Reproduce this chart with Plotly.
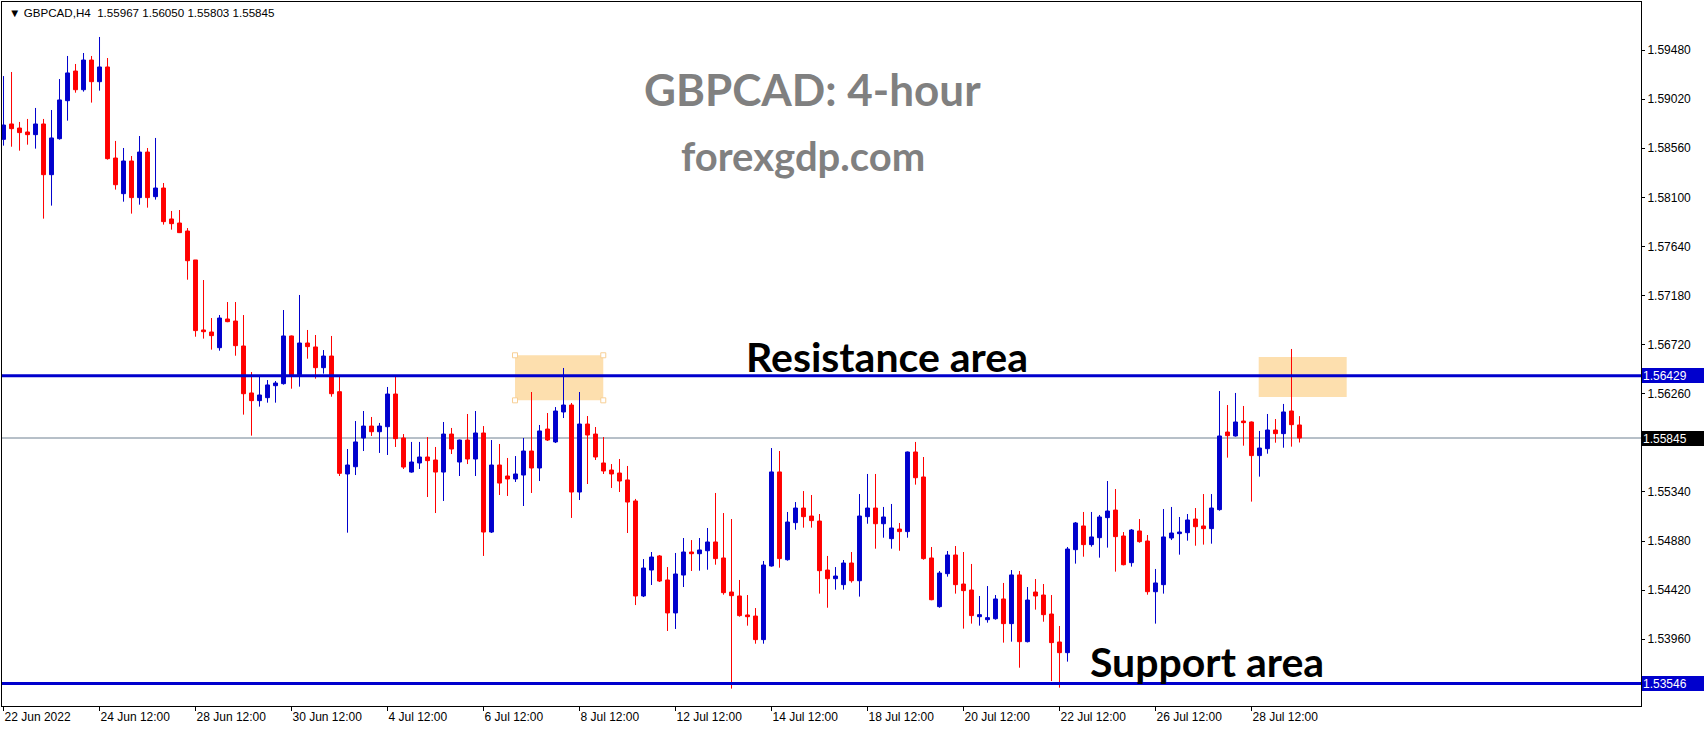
import plotly.graph_objects as go

symbol = "GBPCAD"
timeframe = "H4"

opens = [1.58643, 1.58787, 1.58749, 1.58712, 1.58687, 1.58787, 1.58312, 1.58649, 1.59005, 1.59283,
         1.59108, 1.59386, 1.59183, 1.59321, 1.58468, 1.58134, 1.58440, 1.58097, 1.58524, 1.58106,
         1.58187, 1.57897, 1.57859, 1.57784, 1.57513, 1.56857, 1.56838, 1.56691, 1.56960, 1.56941,
         1.56707, 1.56267, 1.56195, 1.56223, 1.56335, 1.56354, 1.56801, 1.56438, 1.56735, 1.56698,
         1.56504, 1.56613, 1.56279, 1.55508, 1.55576, 1.55845, 1.55957, 1.55904, 1.55951, 1.56257,
         1.55845, 1.55526, 1.55611, 1.55667, 1.55639, 1.55526, 1.55882, 1.55620, 1.55826, 1.55648,
         1.55892, 1.54964, 1.55592, 1.55489, 1.55461, 1.55498, 1.55723, 1.55564, 1.55929, 1.55808,
         1.56089, 1.56154, 1.55339, 1.55976, 1.55882, 1.55611, 1.55545, 1.55517, 1.55452, 1.55255,
         1.54365, 1.54608, 1.54740, 1.54515, 1.54206, 1.54561, 1.54777, 1.54761, 1.54789, 1.54871,
         1.54721, 1.54402, 1.54365, 1.54187, 1.54177, 1.53956, 1.54646, 1.55527, 1.54705, 1.55052,
         1.55189, 1.55114, 1.55067, 1.54608, 1.54527, 1.54471, 1.54674, 1.54508, 1.55108, 1.55189,
         1.55042, 1.54902, 1.54992, 1.54968, 1.55714, 1.55480, 1.54721, 1.54265, 1.54574, 1.54749,
         1.54477, 1.54421, 1.54171, 1.54143, 1.54152, 1.54337, 1.54106, 1.54562, 1.53937, 1.54402,
         1.54374, 1.54196, 1.53934, 1.53834, 1.54799, 1.55021, 1.54846, 1.54911, 1.55099, 1.55170,
         1.54927, 1.54677, 1.54974, 1.54880, 1.54405, 1.54471, 1.54908, 1.54949, 1.54958, 1.55086,
         1.55021, 1.54996, 1.55174, 1.55901, 1.55864, 1.56004, 1.55995, 1.55680, 1.55745, 1.55920,
         1.55886, 1.56098, 1.55967]

highs = [1.59236, 1.59274, 1.58806, 1.58834, 1.58937, 1.58834, 1.58918, 1.59208, 1.59424, 1.59349,
         1.59452, 1.59424, 1.59602, 1.59405, 1.58628, 1.58562, 1.58487, 1.58674, 1.58562, 1.58656,
         1.58234, 1.57972, 1.57981, 1.57812, 1.57513, 1.57325, 1.56969, 1.56997, 1.57119, 1.57119,
         1.56997, 1.56463, 1.56417, 1.56388, 1.56379, 1.57044, 1.56805, 1.57185, 1.56857, 1.56810,
         1.56669, 1.56801, 1.56420, 1.55742, 1.56004, 1.56098, 1.56042, 1.55986, 1.56323, 1.56426,
         1.55882, 1.55808, 1.55808, 1.55854, 1.55761, 1.55995, 1.55939, 1.55830, 1.56070, 1.56098,
         1.55957, 1.55826, 1.55789, 1.55658, 1.55676, 1.55845, 1.56276, 1.55967, 1.56079, 1.56135,
         1.56501, 1.56173, 1.56276, 1.56051, 1.55948, 1.55854, 1.55601, 1.55648, 1.55583, 1.55274,
         1.54711, 1.54777, 1.54749, 1.54636, 1.54768, 1.54908, 1.54889, 1.54908, 1.55002, 1.55330,
         1.55142, 1.55086, 1.54515, 1.54374, 1.54252, 1.54693, 1.55751, 1.55723, 1.55152, 1.55245,
         1.55348, 1.55311, 1.55133, 1.54740, 1.54636, 1.54702, 1.54777, 1.55320, 1.55508, 1.55508,
         1.55199, 1.55227, 1.55049, 1.55718, 1.55808, 1.55667, 1.54824, 1.54599, 1.54786, 1.54833,
         1.54777, 1.54665, 1.54365, 1.54458, 1.54374, 1.54487, 1.54608, 1.54599, 1.54449, 1.54524,
         1.54477, 1.54374, 1.54084, 1.54824, 1.55058, 1.55152, 1.55152, 1.55124, 1.55442, 1.55367,
         1.54964, 1.54992, 1.55086, 1.54936, 1.54618, 1.55180, 1.55199, 1.55105, 1.55133, 1.55189,
         1.55320, 1.55320, 1.56285, 1.56154, 1.56267, 1.56145, 1.56000, 1.55911, 1.56070, 1.56023,
         1.56164, 1.56679, 1.56050]

lows = [1.58584, 1.58574, 1.58537, 1.58593, 1.58556, 1.57900, 1.58022, 1.58640, 1.58818, 1.59080,
        1.59090, 1.58987, 1.59099, 1.58453, 1.58172, 1.58059, 1.57947, 1.58031, 1.58003, 1.58078,
        1.57844, 1.57797, 1.57765, 1.57328, 1.56794, 1.56776, 1.56673, 1.56663, 1.56930, 1.56616,
        1.56064, 1.55867, 1.56139, 1.56176, 1.56176, 1.56345, 1.56307, 1.56326, 1.56588, 1.56401,
        1.56448, 1.56232, 1.55489, 1.54958, 1.55498, 1.55723, 1.55864, 1.55705, 1.55686, 1.55761,
        1.55555, 1.55520, 1.55555, 1.55292, 1.55142, 1.55255, 1.55695, 1.55489, 1.55601, 1.55489,
        1.54740, 1.54955, 1.55311, 1.55302, 1.55433, 1.55208, 1.55330, 1.55442, 1.55817, 1.55798,
        1.56032, 1.55096, 1.55264, 1.55414, 1.55639, 1.55508, 1.55377, 1.55339, 1.54955, 1.54280,
        1.54355, 1.54468, 1.54496, 1.54037, 1.54056, 1.54449, 1.54599, 1.54602, 1.54611, 1.54658,
        1.54377, 1.53497, 1.54171, 1.54087, 1.53918, 1.53918, 1.54640, 1.54630, 1.54696, 1.54986,
        1.55005, 1.55005, 1.54387, 1.54255, 1.54424, 1.54424, 1.54490, 1.54359, 1.55042, 1.54808,
        1.54911, 1.54808, 1.54789, 1.54911, 1.55408, 1.54705, 1.54325, 1.54255, 1.54546, 1.54387,
        1.54059, 1.54106, 1.54087, 1.54115, 1.54143, 1.53928, 1.53937, 1.53693, 1.53930, 1.54237,
        1.54124, 1.53568, 1.53506, 1.53750, 1.54668, 1.54733, 1.54827, 1.54724, 1.54818, 1.54593,
        1.54652, 1.54640, 1.54864, 1.54377, 1.54106, 1.54387, 1.54889, 1.54752, 1.54883, 1.54836,
        1.54846, 1.54855, 1.55164, 1.55661, 1.55858, 1.55773, 1.55249, 1.55483, 1.55698, 1.55801,
        1.55754, 1.55764, 1.55803]

closes = [1.58777, 1.58743, 1.58706, 1.58687, 1.58787, 1.58312, 1.58656, 1.59012, 1.59265, 1.59108,
          1.59386, 1.59183, 1.59321, 1.58462, 1.58218, 1.58440, 1.58097, 1.58524, 1.58097, 1.58187,
          1.57872, 1.57853, 1.57769, 1.57506, 1.56851, 1.56841, 1.56804, 1.56969, 1.56935, 1.56710,
          1.56260, 1.56195, 1.56248, 1.56342, 1.56360, 1.56801, 1.56438, 1.56735, 1.56701, 1.56504,
          1.56613, 1.56260, 1.55514, 1.55592, 1.55808, 1.55957, 1.55904, 1.55957, 1.56257, 1.55839,
          1.55573, 1.55620, 1.55667, 1.55633, 1.55526, 1.55882, 1.55742, 1.55826, 1.55648, 1.55892,
          1.54964, 1.55592, 1.55423, 1.55461, 1.55508, 1.55723, 1.55564, 1.55911, 1.55826, 1.56098,
          1.56154, 1.55339, 1.55976, 1.55873, 1.55667, 1.55536, 1.55508, 1.55442, 1.55245, 1.54365,
          1.54627, 1.54730, 1.54505, 1.54206, 1.54571, 1.54777, 1.54761, 1.54796, 1.54871, 1.54715,
          1.54396, 1.54368, 1.54181, 1.54171, 1.53956, 1.54655, 1.55527, 1.54715, 1.55058, 1.55189,
          1.55108, 1.55071, 1.54602, 1.54527, 1.54552, 1.54674, 1.54508, 1.55114, 1.55189, 1.55042,
          1.55105, 1.55002, 1.54968, 1.55714, 1.55473, 1.54715, 1.54330, 1.54580, 1.54749, 1.54471,
          1.54415, 1.54181, 1.54190, 1.54162, 1.54337, 1.54106, 1.54562, 1.53937, 1.54327, 1.54365,
          1.54190, 1.53928, 1.53834, 1.54805, 1.55049, 1.54846, 1.54918, 1.55105, 1.55161, 1.54921,
          1.54658, 1.54983, 1.54874, 1.54405, 1.54487, 1.54918, 1.54955, 1.54964, 1.55077, 1.55014,
          1.54996, 1.55189, 1.55864, 1.55867, 1.55995, 1.55989, 1.55680, 1.55751, 1.55920, 1.55886,
          1.56089, 1.55970, 1.55845]

# x-axis: bar index of each labelled bar and its label
x_tick_bars = [0, 12, 24, 36, 48, 60, 72, 84, 96, 108, 120, 132, 144, 156]
x_tick_labels = ["22 Jun 2022", "24 Jun 12:00", "28 Jun 12:00", "30 Jun 12:00", "4 Jul 12:00",
                 "6 Jul 12:00", "8 Jul 12:00", "12 Jul 12:00", "14 Jul 12:00", "18 Jul 12:00",
                 "20 Jul 12:00", "22 Jul 12:00", "26 Jul 12:00", "28 Jul 12:00"]

y_tick_values = [1.53500, 1.53960, 1.54420, 1.54880, 1.55340, 1.55800, 1.56260,
                 1.56720, 1.57180, 1.57640, 1.58100, 1.58560, 1.59020, 1.59480]
# grid prices whose labels are covered by a price tag in the original
y_tick_hidden = [1.53500, 1.55800]

resistance_level = 1.56429
support_level = 1.53546

# highlighted zones: (first bar, last bar, lower price, upper price)
zone_first = (63.94, 74.97, 1.56198, 1.56620)
zone_second = (156.9, 167.9, 1.56229, 1.56604)

title_text = "GBPCAD: 4-hour"
site_text = "forexgdp.com"
resistance_text = "Resistance area"
support_text = "Support area"

BLUE = "#0000CD"
RED = "#FF0000"
ZONE = "#FDDFAE"
AXFONT = "Liberation Sans, Arial, sans-serif"
BIGFONT = "Lato, sans-serif"

bars = list(range(len(closes)))
last_close = closes[-1]

fig = go.Figure()

fig.add_trace(go.Candlestick(
    x=bars, open=opens, high=highs, low=lows, close=closes,
    increasing=dict(line=dict(color=BLUE, width=1), fillcolor=BLUE),
    decreasing=dict(line=dict(color=RED, width=1), fillcolor=RED),
    whiskerwidth=0, hoverinfo="skip", showlegend=False,
))

# zone rectangles (below the candles)
for z in (zone_first, zone_second):
    fig.add_shape(type="rect", xref="x", yref="y", x0=z[0], x1=z[1], y0=z[2], y1=z[3],
                  fillcolor=ZONE, line=dict(width=0), layer="below")

# selection handles on the first zone
fig.add_trace(go.Scatter(
    x=[zone_first[0], zone_first[1], zone_first[0], zone_first[1]],
    y=[zone_first[2], zone_first[2], zone_first[3], zone_first[3]],
    mode="markers", marker=dict(symbol="square", size=5, color="white",
                                line=dict(color="#F7CF95", width=1)),
    hoverinfo="skip", showlegend=False,
))

# horizontal levels
for lvl in (resistance_level, support_level):
    fig.add_shape(type="line", xref="paper", yref="y", x0=0, x1=1, y0=lvl, y1=lvl,
                  line=dict(color=BLUE, width=3))
fig.add_shape(type="line", xref="paper", yref="y", x0=0, x1=1, y0=last_close, y1=last_close,
              line=dict(color="#6F8091", width=1), layer="below")

# price tags on the right axis
for lvl, bg in ((resistance_level, BLUE), (last_close, "black"), (support_level, BLUE)):
    fig.add_annotation(x=1, xref="paper", y=lvl, yref="y", xanchor="left", yanchor="middle",
                       xshift=1, text=f"{lvl:.5f}", showarrow=False, bgcolor=bg,
                       bordercolor=bg, borderpad=0, width=60, height=13, align="left",
                       font=dict(family=AXFONT, size=12, color="white"))

# header line
header = (f"\u25BC {symbol},{timeframe}\u00a0\u00a0{opens[-1]:.5f} {highs[-1]:.5f} "
          f"{lows[-1]:.5f} {closes[-1]:.5f}")
fig.add_annotation(x=0.003, xref="paper", y=0.9848, yref="paper", xanchor="left",
                   yanchor="middle", text=header, showarrow=False,
                   font=dict(family=AXFONT, size=11.6, color="black"))

# titles and labels
fig.add_annotation(x=0.4945, xref="paper", y=0.877, yref="paper", text=f"<b>{title_text}</b>",
                   showarrow=False, xanchor="center", yanchor="middle",
                   font=dict(family=BIGFONT, size=44, color="#808080"))
fig.add_annotation(x=0.4889, xref="paper", y=0.781, yref="paper", text=f"<b>{site_text}</b>",
                   showarrow=False, xanchor="center", yanchor="middle",
                   font=dict(family=BIGFONT, size=40, color="#808080"))
fig.add_annotation(x=0.5398, xref="paper", y=0.497, yref="paper", text=f"<b>{resistance_text}</b>",
                   showarrow=False, xanchor="center", yanchor="middle",
                   font=dict(family=BIGFONT, size=41, color="black"))
fig.add_annotation(x=0.7355, xref="paper", y=0.0639, yref="paper", text=f"<b>{support_text}</b>",
                   showarrow=False, xanchor="center", yanchor="middle",
                   font=dict(family=BIGFONT, size=41, color="black"))

fig.update_layout(
    width=1704, height=730,
    margin=dict(l=2, r=63, t=2, b=24),
    paper_bgcolor="white", plot_bgcolor="white",
    showlegend=False,
    xaxis=dict(
        range=[-0.19, 204.69], rangeslider=dict(visible=False),
        tickmode="array", tickvals=x_tick_bars, ticktext=x_tick_labels,
        ticks="outside", ticklen=4, tickcolor="black", ticklabelposition="outside right",
        showline=True, linecolor="black", linewidth=1, mirror=True,
        showgrid=False, zeroline=False,
        tickfont=dict(family=AXFONT, size=12, color="black"),
    ),
    yaxis=dict(
        range=[1.533343, 1.599297], side="right",
        tickmode="array", tickvals=y_tick_values,
        ticktext=["" if v in y_tick_hidden else f"{v:.5f}" for v in y_tick_values],
        ticks="outside", ticklen=3, tickcolor="black",
        showline=True, linecolor="black", linewidth=1, mirror=True,
        showgrid=False, zeroline=False,
        tickfont=dict(family=AXFONT, size=12, color="black"),
    ),
)

fig.write_html("out.html",
               config={"displayModeBar": False},
               post_script="document.body.style.margin='0px';"
                           "document.body.style.padding='0px';"
                           "document.body.style.overflow='hidden';")
